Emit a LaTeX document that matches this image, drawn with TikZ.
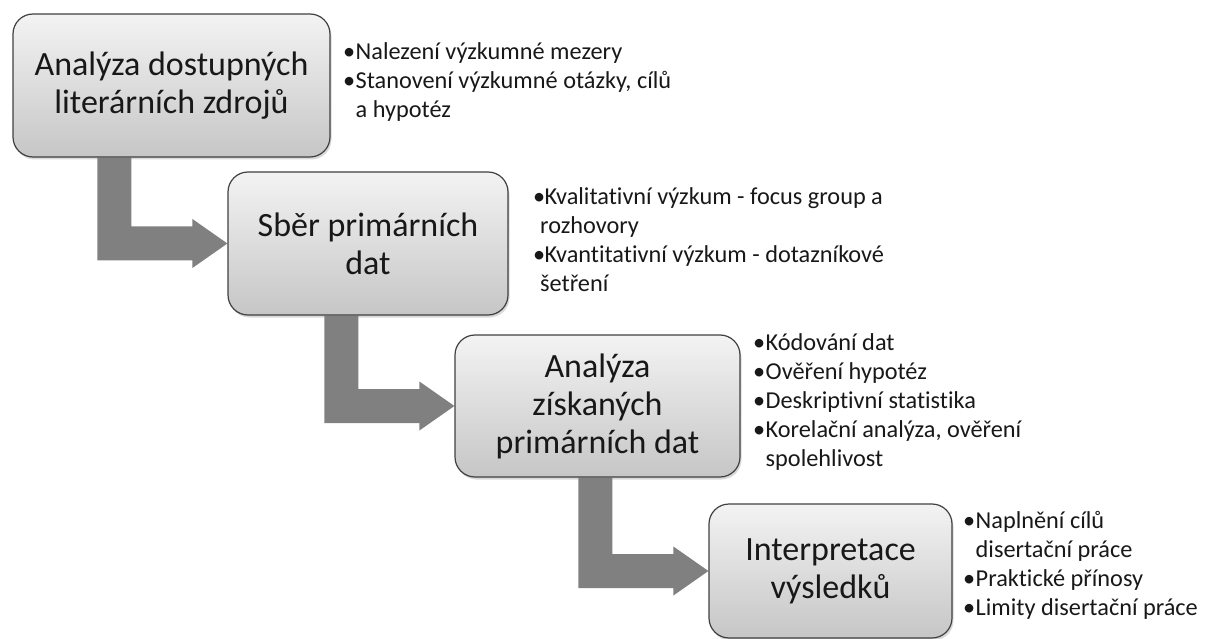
\documentclass[tikz,border=0pt]{standalone}
\usepackage{fontspec}
\setmainfont{Carlito}[Ligatures=NoCommon]
\usepackage{tikz}
\usetikzlibrary{calc}
\usetikzlibrary{positioning}
\usetikzlibrary{shadows}
\usetikzlibrary{backgrounds}
\definecolor{boxtop}{RGB}{243,243,243}
\definecolor{boxbottom}{RGB}{198,198,198}
\definecolor{arrowgray}{RGB}{128,128,128}
\definecolor{textgray}{RGB}{24,24,24}
\newcommand{\bul}[1][12.5pt]{\makebox[#1][l]{•}}
\newcommand{\ind}[1][12.5pt]{\hspace*{#1}}
\tikzset{
  stepbox/.style={
    draw=black!75,
    line width=1.2pt,
    rounded corners=20pt,
    top color=boxtop,
    bottom color=boxbottom,
    drop shadow={shadow xshift=1.5pt, shadow yshift=-2.5pt, opacity=0.3},
    align=center,
    text=textgray,
    inner sep=0pt,
    font=\fontsize{34}{38}\selectfont
  },
  notelist/.style={
    anchor=base west,
    inner sep=0pt,
    text=textgray,
    font=\fontsize{24.3}{29}\selectfont
  },
  steparrow/.style={
    fill=arrowgray,
  },
}

\begin{document}
\begin{tikzpicture}[x=1pt, y=-1pt]
    \useasboundingbox (0,0) rectangle (1205,639);

    \node[stepbox, minimum width=317pt, minimum height=143pt] (lit) at (171.5, 85.5) {Analýza dostupných\\literárních zdrojů};
    \node[stepbox, minimum width=280pt, minimum height=143pt] (sber) at (368, 243.5) {Sběr primárních\\dat};
    \node[stepbox, minimum width=285pt, minimum height=142pt] (anal) at (597.5, 406) {Analýza\\získaných\\primárních dat};
    \node[stepbox, minimum width=243pt, minimum height=134pt] (interp) at (830.5, 571) {Interpretace\\výsledků};

    \node[notelist] (litnotes) at (343, 60) {\begin{tabular}[t]{@{}l@{}}
      \bul Nalezení výzkumné mezery\\
      \bul Stanovení výzkumné otázky, cílů\\
      \ind a hypotéz
    \end{tabular}};
    \node[notelist] (sbernotes) at (533, 205) {\begin{tabular}[t]{@{}l@{}}
      \bul[6pt] Kvalitativní výzkum - focus group a\\
      \ind[1.5pt] rozhovory\\
      \bul[6pt] Kvantitativní výzkum - dotazníkové\\
      \ind[1.5pt] šetření
    \end{tabular}};
    \node[notelist] (analnotes) at (753, 350) {\begin{tabular}[t]{@{}l@{}}
      \bul Kódování dat\\
      \bul Ověření hypotéz\\
      \bul Deskriptivní statistika\\
      \bul Korelační analýza, ověření\\
      \ind spolehlivost
    \end{tabular}};
    \node[notelist] (interpnotes) at (963, 528) {\begin{tabular}[t]{@{}l@{}}
      \bul Naplnění cílů\\
      \ind disertační práce\\
      \bul Praktické přínosy\\
      \bul Limity disertační práce
    \end{tabular}};

    % bent arrows from one step down to the next
    \begin{scope}[on background layer]
      \foreach \from/\to in {lit/sber, sber/anal, anal/interp} {
        \fill[steparrow] let \p1=(\to.west), \p2=(\from.south) in
          (\x1-130pt,\y2) -- (\x1-96pt,\y2) -- (\x1-96pt,\y1+17pt)
          -- (\x1-35pt,\y1+17pt) -- (\x1-35pt,\y1+24.5pt) -- (\x1,\y1)
          -- (\x1-35pt,\y1-24.5pt) -- (\x1-35pt,\y1-17pt)
          -- (\x1-130pt,\y1-17pt) -- cycle;
      }
    \end{scope}
\end{tikzpicture}
\end{document}
